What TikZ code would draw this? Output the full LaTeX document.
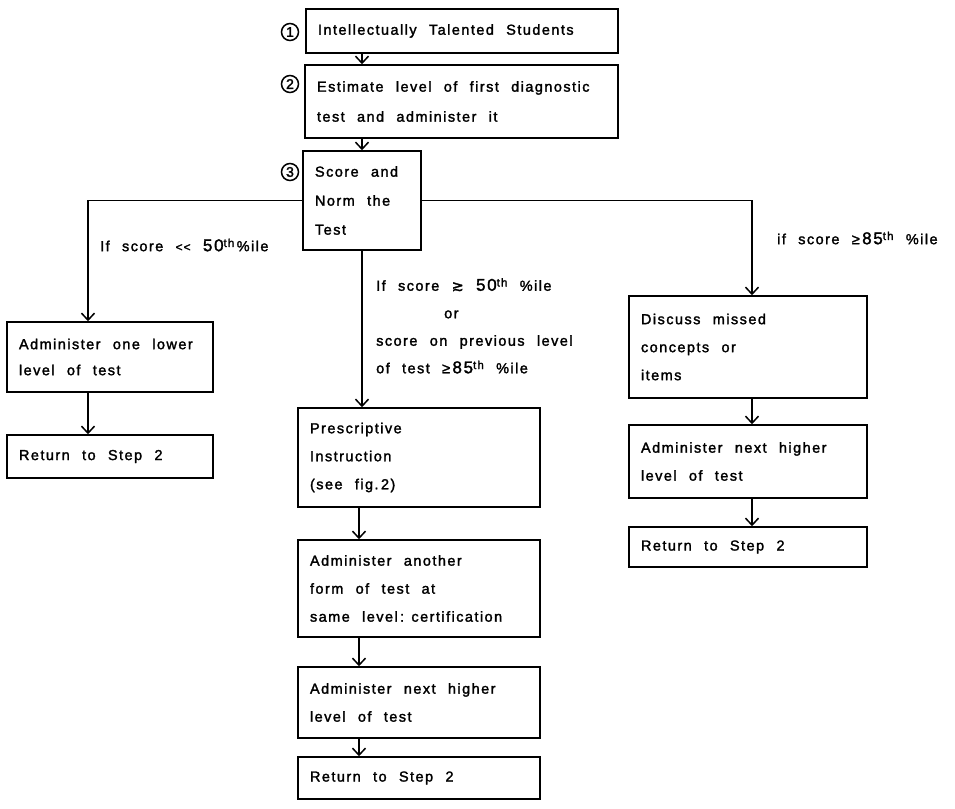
\documentclass[tikz,border=0pt]{standalone}
\usepackage{fontspec}
\setmainfont[LetterSpace=10,FakeBold=1.8,Ligatures=NoCommon]{Liberation Sans}
\newfontfamily\symf[FakeBold=1.8]{DejaVu Sans}
\usetikzlibrary{arrows.meta,calc}
\newcommand{\thsup}{\raisebox{0.55ex}{\fontsize{11.5}{11.5}\selectfont th}}
\newcommand{\bignum}[1]{{\fontsize{17}{17}\selectfont #1}}
\begin{document}
\begin{tikzpicture}[x=1pt,y=-1pt,
  wide/.style={execute at begin node={\spaceskip=0.85em plus 0.1em minus 0.3em\relax}},
  box/.style={wide,draw,line width=1.5pt,align=left,inner xsep=12pt,inner ysep=0pt,
    font=\fontsize{14.5}{28}\selectfont},
  lbl/.style={wide,align=left,inner sep=0pt,font=\fontsize{14.5}{28}\selectfont},
  num/.style={draw,circle,line width=1.5pt,inner sep=0pt,minimum size=17pt,
    font=\fontsize{14}{14}\selectfont},
  arr/.style={line width=1.5pt,-{Straight Barb[length=7pt,width=13pt,line width=1.5pt]}}]
\useasboundingbox (0,0) rectangle (955,808);
% top column
\node[box,text width=288pt,minimum height=44pt] (b1) at (462,31) {Intellectually Talented Students};
\node[box,text width=289pt,minimum height=73pt,font=\fontsize{14.5}{30}\selectfont] (b2) at (461.5,101.5) {Estimate level of first diagnostic\\test and administer it};
\node[box,text width=94pt,minimum height=99pt,font=\fontsize{14.5}{29}\selectfont] (b3) at (362,200.5) {Score and\\Norm the\\Test};
\node[num] (n1) at (290,32) {1};
\node[num] (n2) at (290,84) {2};
\node[num] (n3) at (290,172) {3};
% left column
\node[box,text width=182pt,minimum height=70pt,font=\fontsize{14.5}{26}\selectfont] (l1) at (110,357) {Administer one lower\\level of test};
\node[box,text width=182pt,minimum height=43pt] (l2) at (110,456.5) {Return to Step 2};
% centre column
\node[box,text width=218pt,minimum height=99pt] (c1) at (419,457.5) {Prescriptive\\Instruction\\(see fig.\,2)};
\node[box,text width=218pt,minimum height=97pt] (c2) at (419,588.5) {Administer another\\form of test at\\same level\,: certification};
\node[box,text width=218pt,minimum height=71pt] (c3) at (419,702.5) {Administer next higher\\level of test};
\node[box,text width=218pt,minimum height=42pt] (c4) at (419,778) {Return to Step 2};
% right column
\node[box,text width=214pt,minimum height=102pt] (r1) at (748,347) {Discuss missed\\concepts or\\items};
\node[box,text width=214pt,minimum height=73pt] (r2) at (748,461.5) {Administer next higher\\level of test};
\node[box,text width=214pt,minimum height=40pt] (r3) at (748,547) {Return to Step 2};
% labels
\node[lbl,anchor=west] (lab1) at (100,245) {If score {\fontsize{12}{12}\selectfont <\kern1pt<} \bignum{50}\thsup\,\%ile};
\node[lbl,anchor=west] (lab3) at (777,238) {if score ≥\,\bignum{85}\thsup\ \%ile};
\node[lbl,anchor=north west,font=\fontsize{14.5}{27.5}\selectfont] (lab2) at (376,278) {If score {\symf ≳} \bignum{50}\thsup\ \%ile\\
\hspace*{68pt}or\\score on previous level\\of test ≥\,\bignum{85}\thsup\ \%ile};
% connectors
\draw[arr] (b1.south -| b3) -- (b2.north -| b3);
\draw[arr] (b2.south -| b3) -- (b3.north);
\draw[arr] (b3.west) -| ([xshift=-22pt]l1.north);
\draw[arr] (b3.east) -| ([xshift=4pt]r1.north);
\draw[arr] (b3.south) -- (c1.north -| b3.south);
\draw[arr] ([xshift=-22pt]l1.south) -- ([xshift=-22pt]l2.north);
\draw[arr] ([xshift=-60pt]c1.south) -- ([xshift=-60pt]c2.north);
\draw[arr] ([xshift=-60pt]c2.south) -- ([xshift=-60pt]c3.north);
\draw[arr] ([xshift=-60pt]c3.south) -- ([xshift=-60pt]c4.north);
\draw[arr] ([xshift=4pt]r1.south) -- ([xshift=4pt]r2.north);
\draw[arr] ([xshift=4pt]r2.south) -- ([xshift=4pt]r3.north);
\end{tikzpicture}
\end{document}
